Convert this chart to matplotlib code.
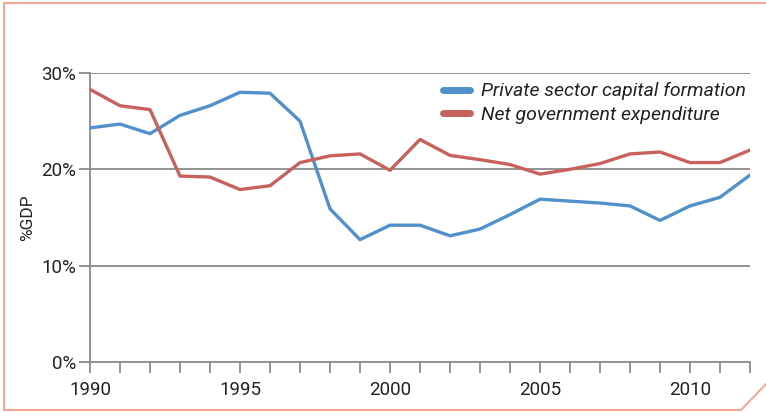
import matplotlib.pyplot as plt
from matplotlib.lines import Line2D

plt.rcParams['font.family'] = ['Roboto', 'DejaVu Sans']

years = list(range(1990, 2013))
private_capital = [24.3, 24.7, 23.7, 25.6, 26.6, 28.0, 27.9, 25.0, 15.9, 12.7,
                   14.2, 14.2, 13.1, 13.8, 15.3, 16.9, 16.7, 16.5, 16.2, 14.7,
                   16.2, 17.1, 19.4]
net_gov = [28.3, 26.6, 26.2, 19.3, 19.2, 17.9, 18.3, 20.7, 21.4, 21.6,
           19.9, 23.1, 21.45, 21.0, 20.5, 19.5, 20.0, 20.6, 21.6, 21.8,
           20.7, 20.7, 22.0]
labels = ['Private sector capital formation', 'Net government expenditure']

blue = '#5190cb'
red = '#c7615c'
grey = '#8a8a8a'
frame = '#f4a695'

fig = plt.figure(figsize=(7.66, 4.12), dpi=100)
ax = fig.add_axes([90 / 766, 50 / 412, 660 / 766, 289 / 412])

# grid
for v in [10, 20, 30]:
    ax.axhline(v, color=grey, lw=1.3, zorder=1)

ax.plot(years, private_capital, color=blue, lw=2.4, zorder=3)
ax.plot(years, net_gov, color=red, lw=2.4, zorder=3)

ax.set_xlim(1990, 2012)
ax.set_ylim(0, 30)
ax.set_xticks(years)
ax.set_xticklabels([str(y) if y % 5 == 0 else '' for y in years])
ax.set_yticks([0, 10, 20, 30])
ax.set_yticklabels(['0%', '10%', '20%', '30%'])
ax.tick_params(axis='both', colors=grey, width=1.3, length=8, labelcolor='#222222',
               labelsize=13.5)
ax.tick_params(axis='x', pad=6)
ax.tick_params(axis='y', pad=2)

for s in ['top', 'right']:
    ax.spines[s].set_visible(False)
for s in ['left', 'bottom']:
    ax.spines[s].set_color(grey)
    ax.spines[s].set_linewidth(1.3)

ax.set_ylabel('%GDP', fontsize=12.5, color='#222222', labelpad=4)

handles = [Line2D([], [], color=blue, lw=5, solid_capstyle='round'),
           Line2D([], [], color=red, lw=5, solid_capstyle='round')]
leg = ax.legend(handles, labels, loc='upper right', bbox_to_anchor=(1.005, 0.995),
                frameon=False, handlelength=1.4, handletextpad=0.55,
                labelspacing=0.3, borderaxespad=0,
                prop={'style': 'italic', 'size': 14})
for t in leg.get_texts():
    t.set_color('#222222')

# page frame with cut corner
W, H = 766, 412
fx = [766, 4, 4, 741, 766]
fy = [3, 3, 410, 410, 384]
fig.add_artist(Line2D([x / W for x in fx], [1 - y / H for y in fy],
                      transform=fig.transFigure, color=frame, lw=1.5))

fig.savefig('out.png', dpi=100)
